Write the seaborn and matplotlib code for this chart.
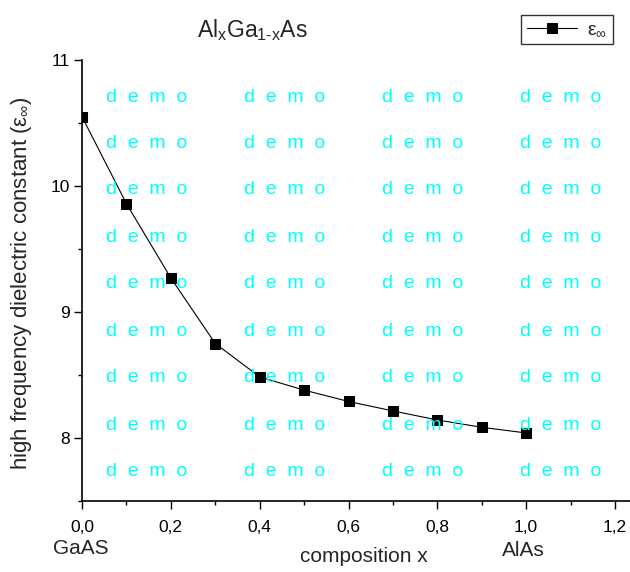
import numpy as np
import pandas as pd
import matplotlib
matplotlib.use("Agg")
import matplotlib.pyplot as plt
from matplotlib.ticker import MultipleLocator, FuncFormatter
import seaborn as sns

composition = [0.0, 0.1, 0.2, 0.3, 0.4, 0.5, 0.6, 0.7, 0.8, 0.9, 1.0]
eps_inf = [10.55, 9.86, 9.27, 8.75, 8.485, 8.38, 8.29, 8.215, 8.143, 8.085, 8.04]
x_ticks = [0.0, 0.2, 0.4, 0.6, 0.8, 1.0, 1.2]
y_ticks = [8, 9, 10, 11]

sns.set_style("ticks")
plt.rcParams['font.family'] = ['Liberation Sans', 'DejaVu Sans']
plt.rcParams['mathtext.fontset'] = 'custom'
plt.rcParams['mathtext.rm'] = 'Liberation Sans'
plt.rcParams['mathtext.it'] = 'Liberation Sans'

df = pd.DataFrame({"x": composition, "eps": eps_inf})

W, H = 630, 572
fig = plt.figure(figsize=(6.3, 5.72), dpi=100)
x0, x12 = 82, 615
ax = fig.add_axes([x0/W, 1-501/H, 1-x0/W, (501-60)/H])

# watermark
wx = [106, 244, 382, 520]
wy = [97, 143, 190, 237, 284, 331, 378, 425, 472]
for yy in wy:
    for xx in wx:
        fig.text(xx/W, 1-yy/H, "d  e  m  o", color="#00FFFF", fontsize=14,
                 ha="left", va="center", zorder=0)

sns.lineplot(data=df, x="x", y="eps", ax=ax, color="black", linewidth=0.8,
             marker="s", markersize=7, markeredgecolor="black",
             label=r"ε$_\infty$", zorder=3)

ax.set_xlim(0, (W-x0)/((x12-x0)/1.2))
ax.set_ylim(7.5, 11)
ax.set_xticks(x_ticks)
ax.set_yticks(y_ticks)
ax.xaxis.set_minor_locator(MultipleLocator(0.1))
ax.yaxis.set_minor_locator(MultipleLocator(0.5))
ax.xaxis.set_major_formatter(FuncFormatter(lambda v, p: f"{v:.1f}".replace(".", ",")))
ax.yaxis.set_major_formatter(FuncFormatter(lambda v, p: f"{v:.0f}"))
ax.tick_params(which="major", direction="out", length=5.5, width=1, labelsize=12.5, colors="black")
ax.tick_params(which="minor", direction="out", length=3, width=1, colors="black")
ax.tick_params(axis="x", which="major", pad=8)
ax.tick_params(axis="y", which="major", pad=3.5)
for s in ["top", "right"]:
    ax.spines[s].set_visible(False)
for s in ["left", "bottom"]:
    ax.spines[s].set_linewidth(1.2)
    ax.spines[s].set_color("black")
ax.patch.set_alpha(0)

ax.set_xlabel("")
ax.set_ylabel("")
fig.text(22/W, 1-283/H, r"high frequency dielectric constant (ε$_\infty$)",
         fontsize=16, rotation=90, ha="center", va="center")

fig.text(252/W, 1-37/H, r"Al$_\mathregular{x}$Ga$_\mathregular{1\text{-}x}$As",
         fontsize=16.5, ha="center", va="baseline")
fig.text(364/W, 1-557/H, "composition x", fontsize=15, ha="center", va="center")
fig.text(81/W, 1-549/H, "GaAS", fontsize=15, ha="center", va="center")
fig.text(523/W, 1-550/H, "AlAs", fontsize=15, ha="center", va="center")

leg = ax.legend(loc="upper left", bbox_to_anchor=(521/W, 1-15/H),
                bbox_transform=fig.transFigure, frameon=True, fancybox=False,
                fontsize=14, handlelength=2.6, borderpad=0.3, handletextpad=0.5,
                borderaxespad=0)
leg.get_frame().set_edgecolor("black")
leg.get_frame().set_linewidth(1)

fig.savefig("out.png", dpi=100)
